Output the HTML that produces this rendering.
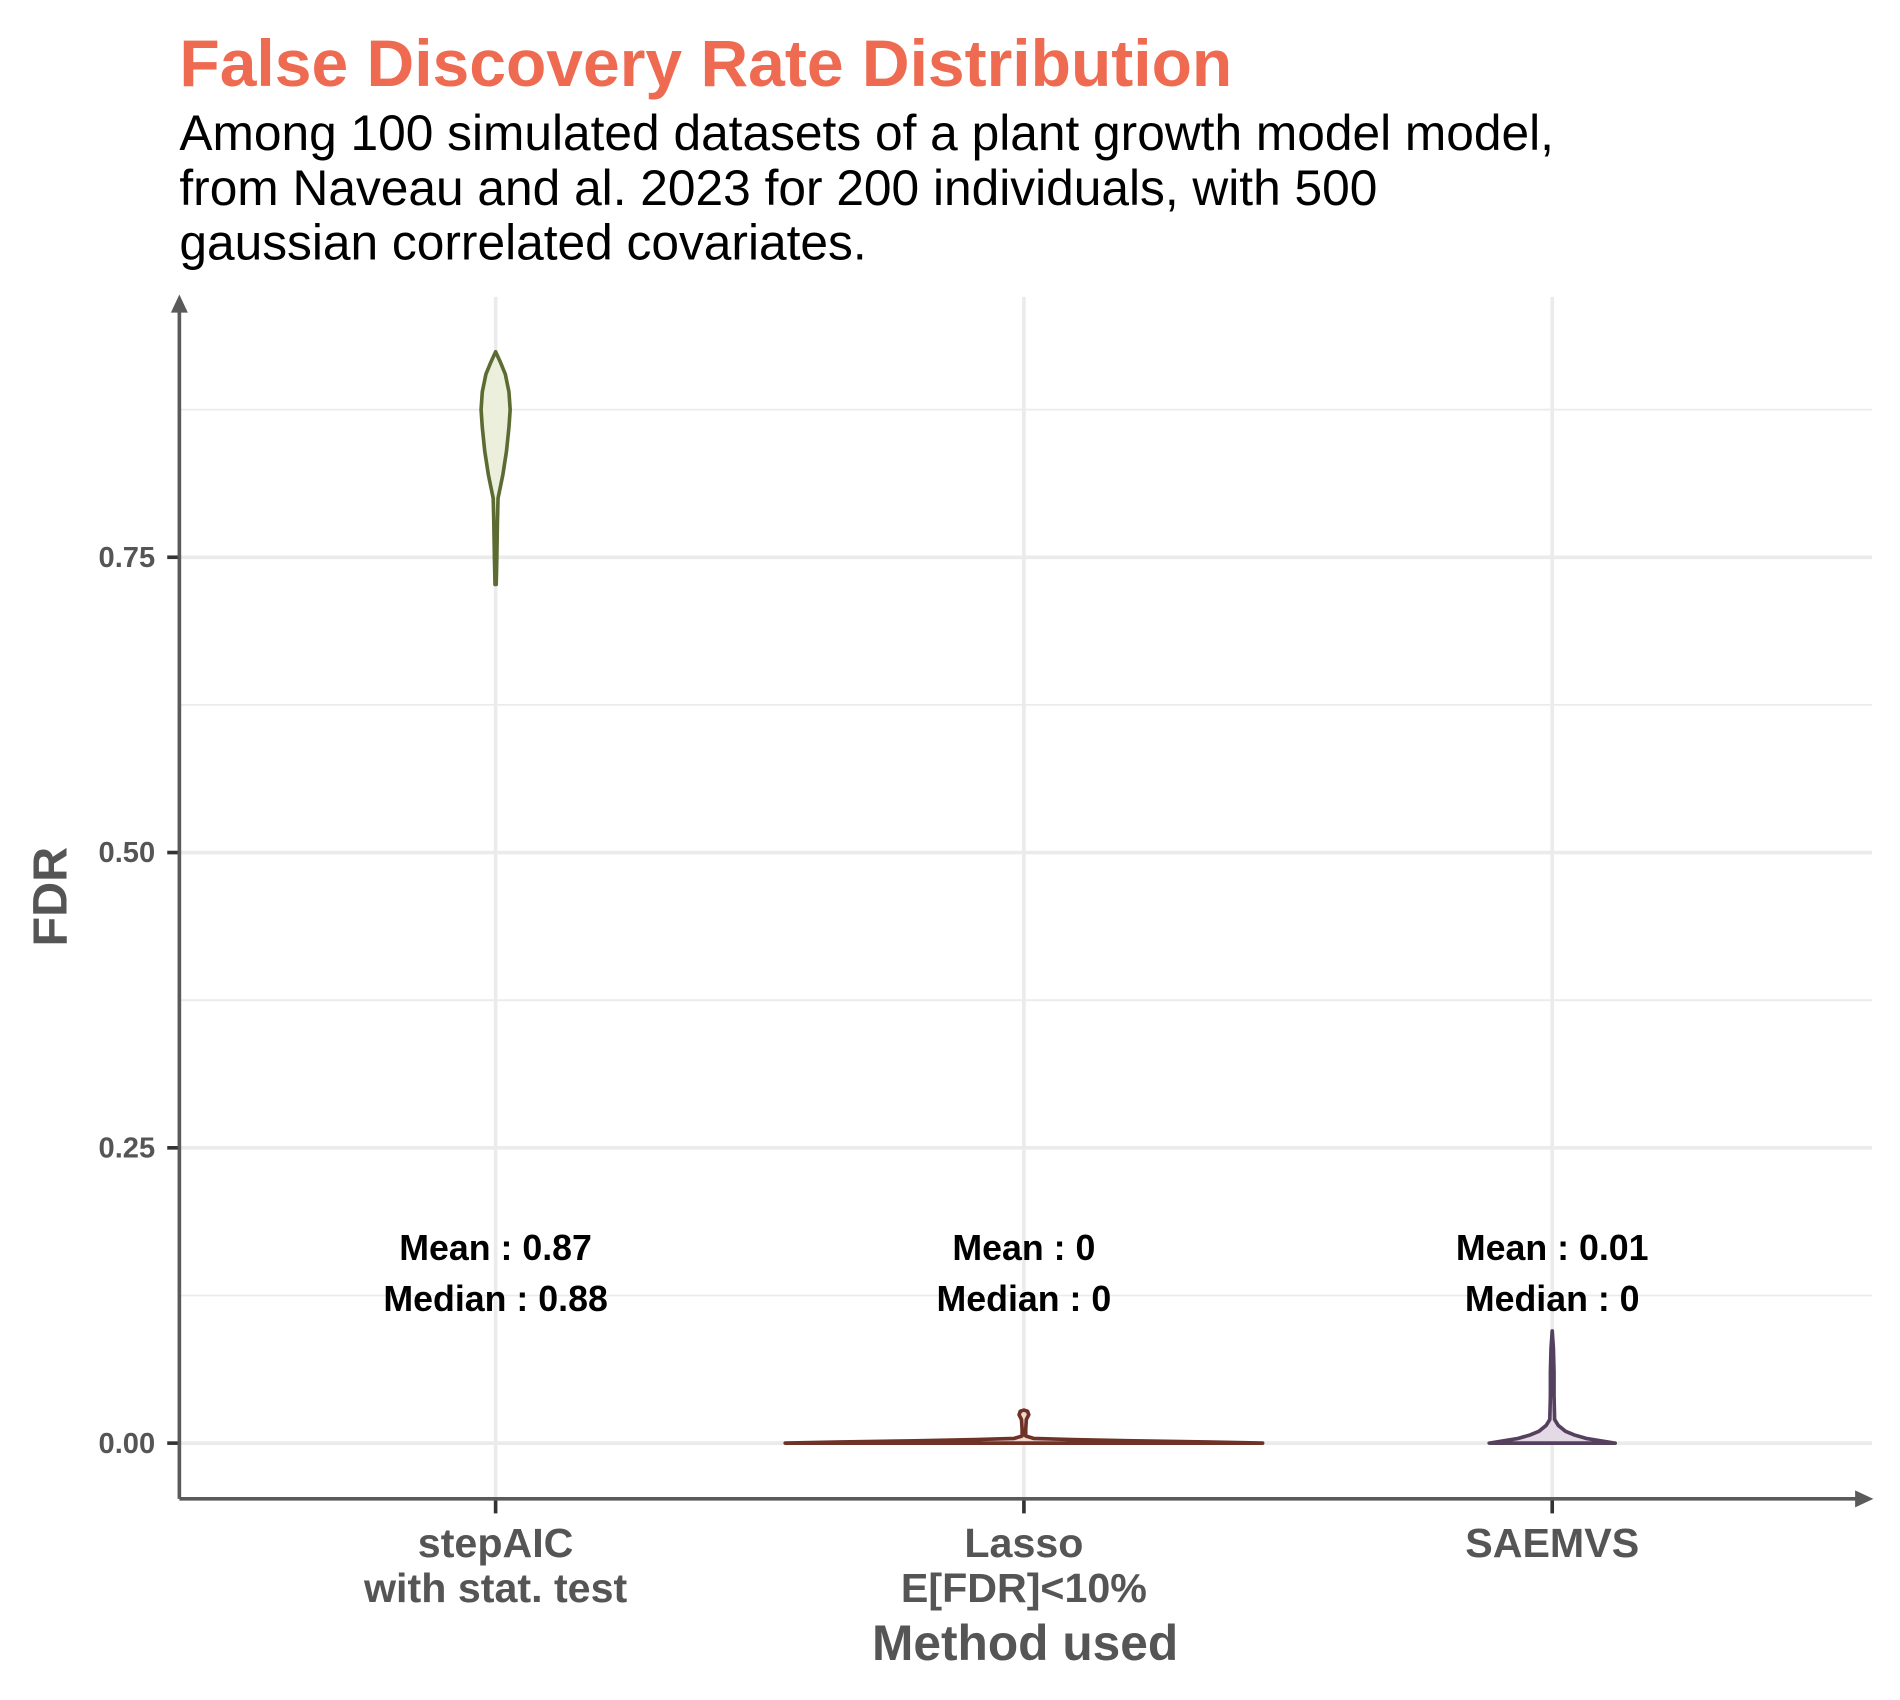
<!DOCTYPE html>
<html><head><meta charset="utf-8"><style>
html,body{margin:0;padding:0;background:#fff;}
svg{display:block;font-family:"Liberation Sans",Arial,sans-serif;}
</style></head><body>
<svg id="chart" width="1900" height="1700" viewBox="0 0 1568 1403" xmlns="http://www.w3.org/2000/svg">
<rect width="1568" height="1403" fill="#fff"/>
<text x="148" y="71" font-size="54.5" font-weight="bold" fill="#EE6A50">False Discovery Rate Distribution</text>
<g font-size="41" fill="#000">
<text x="148" y="124">Among 100 simulated datasets of a plant growth model model,</text>
<text x="148" y="169">from Naveau and al. 2023 for 200 individuals, with 500</text>
<text x="148" y="214">gaussian correlated covariates.</text>
</g>
<g id="grid"></g>
<g id="violins"></g>
<g id="annots"></g>
<g id="axes">
<line x1="148" y1="1237" x2="148" y2="252" stroke="#5a5a5a" stroke-width="3"/>
<polygon points="148,243 141,258 155,258" fill="#5a5a5a"/>
<line x1="148" y1="1237" x2="1535" y2="1237" stroke="#5a5a5a" stroke-width="3"/>
<polygon points="1546,1237 1531,1230 1531,1244" fill="#5a5a5a"/>
</g>
<text x="846" y="1370" font-size="41" font-weight="bold" fill="#555" text-anchor="middle">Method used</text>
<text transform="translate(55,740) rotate(-90)" font-size="40" font-weight="bold" fill="#555" text-anchor="middle">FDR</text>
</svg>
<script>
const categories = ["stepAIC|with stat. test", "Lasso|E[FDR]<10%", "SAEMVS"];
const meanLabels = ["0.87", "0", "0.01"];
const medianLabels = ["0.88", "0", "0"];
const yTicks = [0, 0.25, 0.5, 0.75];
const yTickLabels = ["0.00", "0.25", "0.50", "0.75"];
const stepLevels = [0.727, 0.75, 0.78, 0.80, 0.82, 0.84, 0.86, 0.875, 0.89, 0.905, 0.915, 0.924];
const stepDensity = [0.5, 1, 1.5, 2, 6, 9, 11, 12, 11, 8, 4, 0];
const lassoLevels = [0, 0.001, 0.002, 0.003, 0.004, 0.006, 0.012, 0.02, 0.024, 0.027, 0.028];
const lassoDensity = [197, 150, 90, 40, 8, 1.5, 1.5, 2, 4, 3, 0];
const saemLevels = [0, 0.002, 0.004, 0.007, 0.01, 0.015, 0.02, 0.04, 0.06, 0.08, 0.095];
const saemDensity = [52, 40, 28, 18, 11, 5, 2, 1.5, 1.5, 1, 0];

const NS = "http://www.w3.org/2000/svg";
const yScale = v => 1191 - v * 974.8;
const xScale = i => 409 + i * 436;
function mk(tag, attrs, parent) {
  const e = document.createElementNS(NS, tag);
  for (const k in attrs) e.setAttribute(k, attrs[k]);
  parent.appendChild(e);
  return e;
}
const grid = document.getElementById("grid");
for (let v = 0.125; v < 0.95; v += 0.25) {
  const l = mk("line", {x1:148, x2:1545, y1:yScale(v), y2:yScale(v), stroke:"#ebebeb", "stroke-width":1.5}, grid);
  
  
}
yTicks.forEach((v, i) => {
  const l = mk("line", {x1:148, x2:1545, y1:yScale(v), y2:yScale(v), stroke:"#ebebeb", "stroke-width":3}, grid);
  
  
  const t = mk("line", {x1:138, x2:148, y1:yScale(v), y2:yScale(v), stroke:"#333", "stroke-width":3}, grid);
  
  
  const tx = mk("text", {x:128, y:yScale(v)+8, "font-size":24, "font-weight":"bold", fill:"#555", "text-anchor":"end"}, grid);
  tx.textContent = yTickLabels[i];
  
  
});
categories.forEach((c, i) => {
  const l = mk("line", {x1:xScale(i), x2:xScale(i), y1:245, y2:1237, stroke:"#ebebeb", "stroke-width":3}, grid);
  
  
  const t = mk("line", {x1:xScale(i), x2:xScale(i), y1:1237, y2:1249, stroke:"#333", "stroke-width":3}, grid);
  
  
  c.split("|").forEach((s, j) => {
    const tx = mk("text", {x:xScale(i), y:1285 + j*37, "font-size":34, "font-weight":"bold", fill:"#555", "text-anchor":"middle"}, grid);
    tx.textContent = s;
    
    
  });
});
const violins = document.getElementById("violins");
const specs = [
  [stepLevels, stepDensity, "#5C6B32", "#ECEFDC", "violin-stepaic"],
  [lassoLevels, lassoDensity, "#6E3326", "#F0D8D0", "violin-lasso"],
  [saemLevels, saemDensity, "#55405E", "#E3DAE6", "violin-saemvs"]
];
specs.forEach((s, i) => {
  const [lv, dn, stroke, fill, name] = s;
  const cx = xScale(i);
  let pts = [];
  lv.forEach((v, k) => pts.push((cx + dn[k]) + "," + yScale(v)));
  for (let k = lv.length - 1; k >= 0; k--) pts.push((cx - dn[k]) + "," + yScale(lv[k]));
  const p = mk("polygon", {points: pts.join(" "), fill: fill, stroke: stroke, "stroke-width": 3, "stroke-linejoin":"round"}, violins);
  
  
});
const annots = document.getElementById("annots");
categories.forEach((c, i) => {
  const a = mk("text", {x:xScale(i), y:1040, "font-size":29.5, "font-weight":"bold", fill:"#000", "text-anchor":"middle"}, annots);
  a.textContent = "Mean : " + meanLabels[i];
  
  
  const b = mk("text", {x:xScale(i), y:1082, "font-size":29.5, "font-weight":"bold", fill:"#000", "text-anchor":"middle"}, annots);
  b.textContent = "Median : " + medianLabels[i];
  
  
});
</script>
</body></html>
